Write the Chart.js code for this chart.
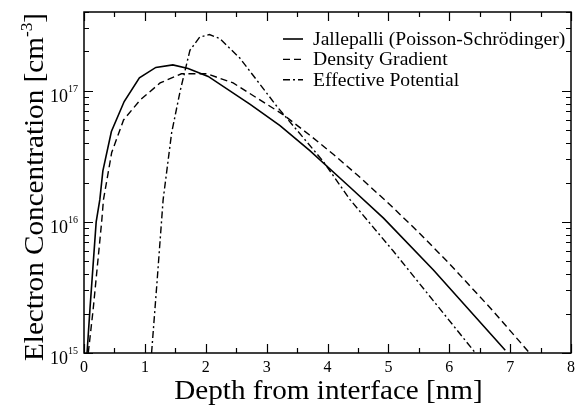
<!DOCTYPE html>
<html>
<head>
<meta charset="utf-8">
<script src="https://cdn.jsdelivr.net/npm/chart.js@4.4.1/dist/chart.umd.min.js"></script>
<style>
  html, body { margin: 0; padding: 0; background: #fff; }
  canvas { display: block; }
</style>
</head>
<body>
<canvas id="grafico" width="584" height="407"></canvas>
<script>
// Dados (profundidade em nm, concentração em cm^-3)
const jalX = [0.05, 0.10, 0.20, 0.26, 0.31, 0.45, 0.66, 0.91, 1.18, 1.46, 1.71, 2.04, 2.73, 3.22, 3.71, 4.37, 4.92, 5.74, 6.92];
const jalY = [1.0e15, 2.24e15, 1.0e16, 1.48e16, 2.45e16, 4.9e16, 8.3e16, 1.26e17, 1.51e17, 1.58e17, 1.48e17, 1.29e17, 7.9e16, 5.43e16, 3.5e16, 1.84e16, 1.07e16, 4.3e15, 1.05e15];

const dgX = [0.07, 0.15, 0.29, 0.32, 0.455, 0.65, 0.92, 1.25, 1.60, 2.02, 2.45, 3.27, 3.7, 4.1, 4.5, 5.0, 5.5, 6.0, 6.7, 7.32];
const dgY = [1.0e15, 2.14e15, 1.0e16, 1.48e16, 3.39e16, 6.0e16, 8.5e16, 1.15e17, 1.35e17, 1.35e17, 1.15e17, 6.6e16, 4.63e16, 3.27e16, 2.26e16, 1.39e16, 8.3e15, 4.82e15, 2.14e15, 1.0e15];

const epX = [1.11, 1.20, 1.30, 1.44, 1.58, 1.74, 1.90, 2.06, 2.23, 2.56, 3.17, 3.93, 4.37, 5.08, 5.74, 6.43];
const epY = [1.0e15, 3.5e15, 1.48e16, 4.8e16, 1.0e17, 2.04e17, 2.57e17, 2.69e17, 2.51e17, 1.78e17, 7.6e16, 2.9e16, 1.48e16, 6.0e15, 2.5e15, 1.0e15];

const seriesLabels = ["Jallepalli (Poisson-Schrödinger)", "Density Gradient", "Effective Potential"];
const xTicks = [0, 1, 2, 3, 4, 5, 6, 7, 8];
const yTickExps = [15, 16, 17];

const SERIF = "'Liberation Serif', 'DejaVu Serif', serif";

function pontos(xs, ys) {
  return xs.map((x, i) => ({ x: x, y: ys[i] }));
}

// texto com leve esticamento horizontal (fonte Times do original é mais larga)
function textoLargo(ctx, txt, x, y, font, esticar, align) {
  ctx.save();
  ctx.font = font;
  ctx.textAlign = align;
  ctx.translate(x, y);
  ctx.scale(esticar, 1);
  ctx.fillText(txt, 0, 0);
  ctx.restore();
}

// Eixos, ticks internos, legenda e títulos desenhados pelas escalas do Chart.js
const eixosPlugin = {
  id: "eixos",
  afterDraw(chart) {
    const ctx = chart.ctx;
    const area = chart.chartArea;
    const sx = chart.scales.x;
    const sy = chart.scales.y;

    ctx.save();
    ctx.strokeStyle = "#000";
    ctx.fillStyle = "#000";
    ctx.lineWidth = 1.5;
    ctx.setLineDash([]);
    ctx.strokeRect(area.left, area.top, area.right - area.left, area.bottom - area.top);

    // ticks do eixo x (baixo e cima)
    ctx.lineWidth = 1.2;
    for (let v = 0; v <= 8; v += 0.5) {
      const px = Math.round(sx.getPixelForValue(v)) + 0.5;
      const len = Number.isInteger(v) ? 9 : 5;
      ctx.beginPath();
      ctx.moveTo(px, area.bottom);
      ctx.lineTo(px, area.bottom - len);
      ctx.moveTo(px, area.top);
      ctx.lineTo(px, area.top + len);
      ctx.stroke();
    }

    // ticks do eixo y (esquerda e direita)
    for (let e = 15; e <= 17; e++) {
      for (let k = 1; k <= 9; k++) {
        const v = k * Math.pow(10, e);
        if (v < sy.min || v > sy.max) continue;
        const py = Math.round(sy.getPixelForValue(v)) + 0.5;
        const len = k === 1 ? 9 : 5;
        ctx.beginPath();
        ctx.moveTo(area.left, py);
        ctx.lineTo(area.left + len, py);
        ctx.moveTo(area.right, py);
        ctx.lineTo(area.right - len, py);
        ctx.stroke();
      }
    }

    // rótulos do eixo x
    ctx.font = "16px " + SERIF;
    ctx.textAlign = "center";
    ctx.textBaseline = "alphabetic";
    xTicks.forEach(t => {
      ctx.fillText(String(t), sx.getPixelForValue(t), area.bottom + 19);
    });

    // rótulos do eixo y com expoente
    yTickExps.forEach(e => {
      const py = sy.getPixelForValue(Math.pow(10, e));
      ctx.font = "10px " + SERIF;
      const wSup = ctx.measureText(String(e)).width;
      ctx.textAlign = "right";
      ctx.fillText(String(e), area.left - 6, py + 1);
      ctx.font = "18px " + SERIF;
      ctx.fillText("10", area.left - 6 - wSup, py + 11);
    });

    // legenda
    const legX = 283, legY = 39, legDy = 20.4;
    chart.data.datasets.forEach((ds, i) => {
      const y = legY + i * legDy;
      ctx.lineWidth = ds.borderWidth;
      ctx.setLineDash(ds.borderDash || []);
      ctx.beginPath();
      ctx.moveTo(legX, y);
      ctx.lineTo(legX + 20, y);
      ctx.stroke();
      ctx.setLineDash([]);
      textoLargo(ctx, ds.label, legX + 30, y + 6, "18px " + SERIF, 1.09, "left");
    });

    // título do eixo x
    textoLargo(ctx, "Depth from interface [nm]", (area.left + area.right) / 2 + 1, 399, "27px " + SERIF, 1.08, "center");

    // título do eixo y (rotacionado, com cm^-3)
    ctx.save();
    ctx.translate(43, 187);
    ctx.rotate(-Math.PI / 2);
    ctx.scale(1.08, 1);
    const t1 = "Electron Concentration [cm", t2 = "-3", t3 = "]";
    ctx.font = "27px " + SERIF;
    const w1 = ctx.measureText(t1).width;
    const w3 = ctx.measureText(t3).width;
    ctx.font = "16px " + SERIF;
    const w2 = ctx.measureText(t2).width;
    const x0 = -(w1 + w2 + w3) / 2;
    ctx.textAlign = "left";
    ctx.font = "27px " + SERIF;
    ctx.fillText(t1, x0, 0);
    ctx.fillText(t3, x0 + w1 + w2, 0);
    ctx.font = "16px " + SERIF;
    ctx.fillText(t2, x0 + w1, -11);
    ctx.restore();

    ctx.restore();
  }
};

const ctx = document.getElementById("grafico").getContext("2d");

new Chart(ctx, {
  type: "line",
  data: {
    datasets: [
      {
        label: seriesLabels[0],
        data: pontos(jalX, jalY),
        borderColor: "#000",
        borderWidth: 1.6,
        borderDash: [],
        pointRadius: 0,
        tension: 0
      },
      {
        label: seriesLabels[1],
        data: pontos(dgX, dgY),
        borderColor: "#000",
        borderWidth: 1.4,
        borderDash: [7, 4],
        pointRadius: 0,
        tension: 0
      },
      {
        label: seriesLabels[2],
        data: pontos(epX, epY),
        borderColor: "#000",
        borderWidth: 1.4,
        borderDash: [7, 3, 2, 3],
        pointRadius: 0,
        tension: 0
      }
    ]
  },
  options: {
    responsive: false,
    animation: false,
    devicePixelRatio: 1,
    layout: { padding: { left: 84, right: 13, top: 12, bottom: 54 } },
    plugins: {
      legend: { display: false },
      tooltip: { enabled: false }
    },
    scales: {
      x: { type: "linear", min: 0, max: 8, display: false },
      y: { type: "logarithmic", min: 1e15, max: 4e17, display: false }
    }
  },
  plugins: [eixosPlugin]
});
</script>
</body>
</html>
